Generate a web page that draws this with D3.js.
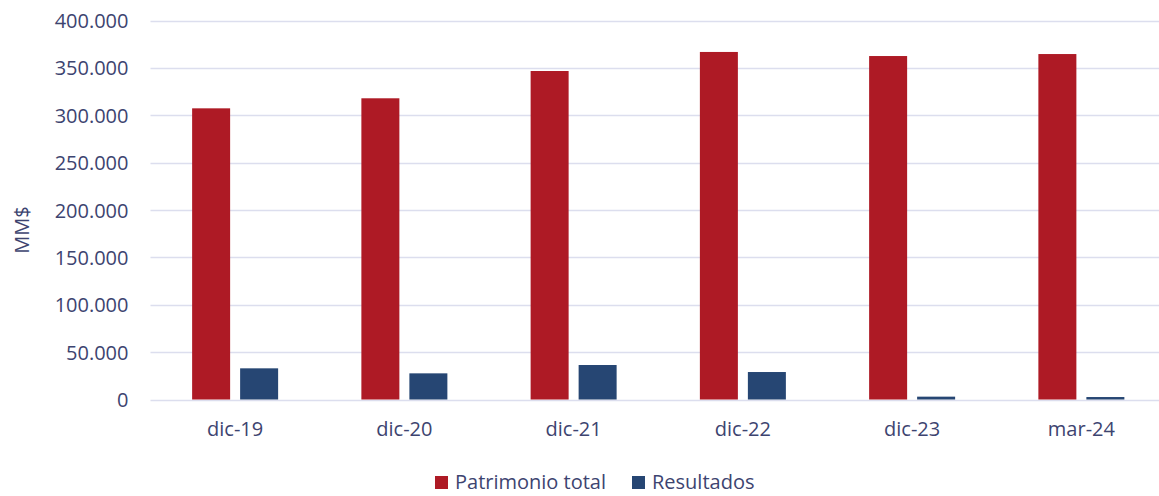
<!DOCTYPE html>
<html>
<head>
<meta charset="utf-8">
<script src="https://cdn.jsdelivr.net/npm/d3@7"></script>
<style>
  html, body { margin: 0; padding: 0; background: #ffffff; }
  svg { display: block; }
  svg text { font-family: "Open Sans", "Noto Sans", sans-serif; }
</style>
</head>
<body>
<svg id="chart" width="1159" height="496"></svg>
<script>
// Periods and series values (MM$)
const categories = ["dic-19", "dic-20", "dic-21", "dic-22", "dic-23", "mar-24"];
const patrimonioTotal = [307300, 317900, 346700, 366800, 362500, 364600];
const resultados = [32900, 27600, 36400, 29000, 3000, 2600];
const seriesNames = ["Patrimonio total", "Resultados"];
const yTicks = [0, 50000, 100000, 150000, 200000, 250000, 300000, 350000, 400000];

const colors = ["#ae1a25", "#264673"];
const textColor = "#3d4470";
const gridColor = "#dcdeee";
const fontSize = "20px";

const svg = d3.select("#chart");
const W = 1159, H = 496;
const plot = { left: 150.5, right: 1166, top: 20.5, bottom: 399.5 };

const x = d3.scaleBand().domain(categories).range([plot.left, plot.right]).padding(0);
const y = d3.scaleLinear().domain([0, 400000]).range([plot.bottom, plot.top]);

const fmt = v => d3.format(",")(v).replace(/,/g, ".");

// Horizontal gridlines
svg.append("g")
  .selectAll("line")
  .data(yTicks)
  .join("line")
  .attr("x1", plot.left)
  .attr("x2", W)
  .attr("y1", d => Math.round(y(d)) + 0.5)
  .attr("y2", d => Math.round(y(d)) + 0.5)
  .attr("stroke", gridColor)
  .attr("stroke-width", 1.5);

// Y axis tick labels
const yAxis = svg.append("g")
  .attr("transform", `translate(${plot.left - 22},0)`)
  .call(d3.axisLeft(y).tickValues(yTicks).tickFormat(fmt).tickSize(0).tickPadding(0))
  .attr("font-family", null)
  .attr("font-size", null);
yAxis.select(".domain").remove();
yAxis.selectAll("text")
  .attr("fill", textColor)
  .style("font-size", fontSize)
  .attr("dy", "0.35em");

// Y axis title
svg.append("text")
  .attr("transform", `translate(29,${(plot.top + plot.bottom) / 2 + 20}) rotate(-90)`)
  .attr("text-anchor", "middle")
  .attr("fill", textColor)
  .style("font-size", fontSize)
  .text("MM$");

// Bars
const barW = 38, gap = 10;
const groupW = barW * 2 + gap;
const data = categories.map((c, i) => ({ c, vals: [patrimonioTotal[i], resultados[i]] }));

const groups = svg.append("g")
  .selectAll("g")
  .data(data)
  .join("g")
  .attr("transform", d => `translate(${x(d.c) + x.bandwidth() / 2 - groupW / 2},0)`);

groups.selectAll("rect")
  .data(d => d.vals.map((v, k) => ({ v, k })))
  .join("rect")
  .attr("x", d => d.k * (barW + gap))
  .attr("y", d => y(d.v))
  .attr("width", barW)
  .attr("height", d => y(0) - y(d.v))
  .attr("fill", d => colors[d.k]);

// X axis category labels
const xAxis = svg.append("g")
  .attr("transform", `translate(0,${plot.bottom})`)
  .call(d3.axisBottom(x).tickSize(0).tickPadding(22))
  .attr("font-family", null)
  .attr("font-size", null);
xAxis.select(".domain").remove();
xAxis.selectAll("text")
  .attr("fill", textColor)
  .style("font-size", fontSize);

// Legend
const legend = svg.append("g").attr("transform", "translate(435,482)");
const legendX = [0, 197];
seriesNames.forEach((name, i) => {
  const g = legend.append("g").attr("transform", `translate(${legendX[i]},0)`);
  g.append("rect").attr("x", 0).attr("y", -6).attr("width", 13).attr("height", 13).attr("fill", colors[i]);
  g.append("text")
    .attr("x", 20)
    .attr("y", 0)
    .attr("dy", "0.35em")
    .attr("fill", textColor)
    .style("font-size", fontSize)
    .text(name);
});
</script>
</body>
</html>
